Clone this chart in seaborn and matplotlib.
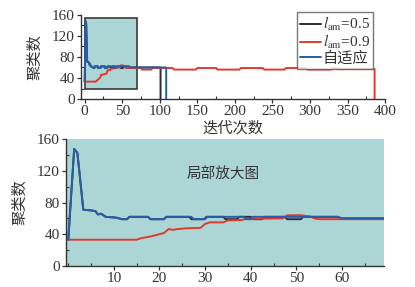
import numpy as np
import pandas as pd
import matplotlib
matplotlib.use("Agg")
import matplotlib.pyplot as plt
from matplotlib.patches import Rectangle
from matplotlib.ticker import MultipleLocator
import seaborn as sns

# ---------------- data (vertices) ----------------
series_names = ["$l_{\\mathrm{am}}$=0.5", "$l_{\\mathrm{am}}$=0.9", "自适应"]

x_l05 = [0, 1.3, 2, 3.3, 5.2, 6, 6.5, 7.2, 8.2, 10.5, 11.8, 12.9, 13.4, 17.5, 18, 21, 21.5,
         26.5, 27, 29.8, 30.3, 34, 34.5, 37, 37.5, 40, 40.5, 42.5, 43, 47.5, 48, 51, 51.5,
         59, 60, 101, 101]
y_l05 = [33, 148, 143, 71, 70, 69, 65, 66, 62, 61, 59, 59, 62, 62, 59, 59, 62,
         62, 59, 59, 62, 62, 59, 59, 62, 62, 59, 59, 62, 62, 59, 59, 62,
         62, 60, 60, 0]

x_l09 = [0, 15, 16, 18, 19, 21, 22, 23, 24, 26, 29, 30, 31, 34, 35, 38, 39, 47, 48, 51, 53,
         54, 55, 75, 76, 89, 90, 117, 119, 148, 150, 175, 177, 206, 208, 237, 239, 266,
         268, 295, 297, 328, 330, 335, 337, 386, 386]
y_l09 = [33, 33, 35, 37, 38.5, 41.5, 46.5, 45.5, 46.5, 47.5, 48, 53, 55, 55, 57.5, 58, 59.5,
         60, 64, 64, 62.5, 60, 59, 59, 56, 56, 59, 59, 56, 56, 59, 59, 56, 56, 59, 59, 56, 56,
         59, 59, 56, 56, 59, 59, 57, 57, 0]

x_ada = [0, 1.3, 2, 3.3, 5.2, 6, 6.5, 7.2, 8.2, 10.5, 11.8, 12.9, 13.4, 17.5, 18, 21, 21.5,
         27, 27.5, 30, 30.5, 38.5, 39, 40, 40.5, 47, 47.5, 59, 60, 108.5, 108.5]
y_ada = [33, 148, 143, 71, 70, 69, 65, 66, 62, 61, 59, 59, 62, 62, 59, 59, 62,
         62, 59, 59, 62, 62, 59, 59, 62, 62, 62, 62, 60, 60, 0]

top_xticks = [0, 50, 100, 150, 200, 250, 300, 350, 400]
bot_xticks = [10, 20, 30, 40, 50, 60]
yticks = [0, 40, 80, 120, 160]
zoom_box = (0, 69, 20, 155)  # x0, x1, y0, y1 of the highlighted region

# ---------------- build table ----------------
frames = []
for name, xs, ys in zip(series_names, [x_l05, x_l09, x_ada], [y_l05, y_l09, y_ada]):
    frames.append(pd.DataFrame({"x": xs, "y": ys, "series": name}))
df = pd.concat(frames, ignore_index=True)

palette = {series_names[0]: "#2b2a3a", series_names[1]: "#e2392f", series_names[2]: "#2a5ca8"}
teal = "#abd6d5"
txt = "#333333"

sns.set_theme(style="ticks")
plt.rcParams["font.family"] = ["Liberation Serif", "DejaVu Serif", "Noto Sans CJK SC"]
plt.rcParams["mathtext.fontset"] = "stix"
plt.rcParams["axes.unicode_minus"] = False
serif_cjk = ["Liberation Serif", "DejaVu Serif", "Noto Sans CJK SC"]
num_font = dict(family=["Liberation Serif", "DejaVu Serif"], size=11, color=txt)

fig = plt.figure(figsize=(4.15, 2.87), dpi=100)
ax1 = fig.add_axes([0.195, 0.655, 0.733, 0.293])
ax2 = fig.add_axes([0.159, 0.074, 0.766, 0.44])

for ax in (ax1, ax2):
    sns.lineplot(data=df, x="x", y="y", hue="series", hue_order=series_names,
                 palette=palette, estimator=None, sort=False, linewidth=1.4,
                 ax=ax, legend=(ax is ax1), zorder=3)
    ax.spines["top"].set_visible(False)
    ax.spines["right"].set_visible(False)
    for s in ("left", "bottom"):
        ax.spines[s].set_color(txt)
        ax.spines[s].set_linewidth(1.0)
    ax.set_ylim(0, 160)
    ax.set_yticks(yticks, [str(v) for v in yticks], **num_font)
    ax.yaxis.set_minor_locator(MultipleLocator(20))
    ax.tick_params(axis="both", which="major", direction="out", length=3, width=0.9,
                   colors=txt, pad=1.5)
    ax.tick_params(axis="both", which="minor", direction="in", length=2, width=0.8, colors=txt)
    ax.set_ylabel("聚类数", fontsize=11, color=txt, family=["Noto Sans CJK SC"], labelpad=6)

# top panel
ax1.set_xlim(-5, 400)
ax1.set_xticks(top_xticks, [str(v) for v in top_xticks], **num_font)
ax1.xaxis.set_minor_locator(MultipleLocator(25))
ax1.set_xlabel("迭代次数", fontsize=11, color=txt, family=["Noto Sans CJK SC"], labelpad=1)
x0, x1, y0, y1 = zoom_box
ax1.add_patch(Rectangle((x0, y0), x1 - x0, y1 - y0, facecolor=teal, edgecolor="#3a3a3a",
                        linewidth=1.2, zorder=1))
leg = ax1.legend(loc="upper right", bbox_to_anchor=(0.97, 1.07), fontsize=11,
                 frameon=True, fancybox=False, handlelength=1.4, handletextpad=0.1,
                 borderpad=0.2, labelspacing=0.0, borderaxespad=0.2)
leg.get_frame().set_edgecolor("#555555")
leg.get_frame().set_linewidth(1.0)
for t in leg.get_texts():
    t.set_color(txt)
    t.set_family(serif_cjk)

# bottom panel
ax2.set_facecolor(teal)
ax2.set_xlim(-0.5, 69.2)
ax2.set_xticks(bot_xticks, [str(v) for v in bot_xticks], **num_font)
ax2.xaxis.set_minor_locator(MultipleLocator(5))
ax2.set_xlabel("")
ax2.text(34, 115, "局部放大图", fontsize=10.5, color=txt, ha="center", va="center",
         family=["Noto Sans CJK SC"])

fig.savefig("out.png", dpi=100, facecolor="white")
